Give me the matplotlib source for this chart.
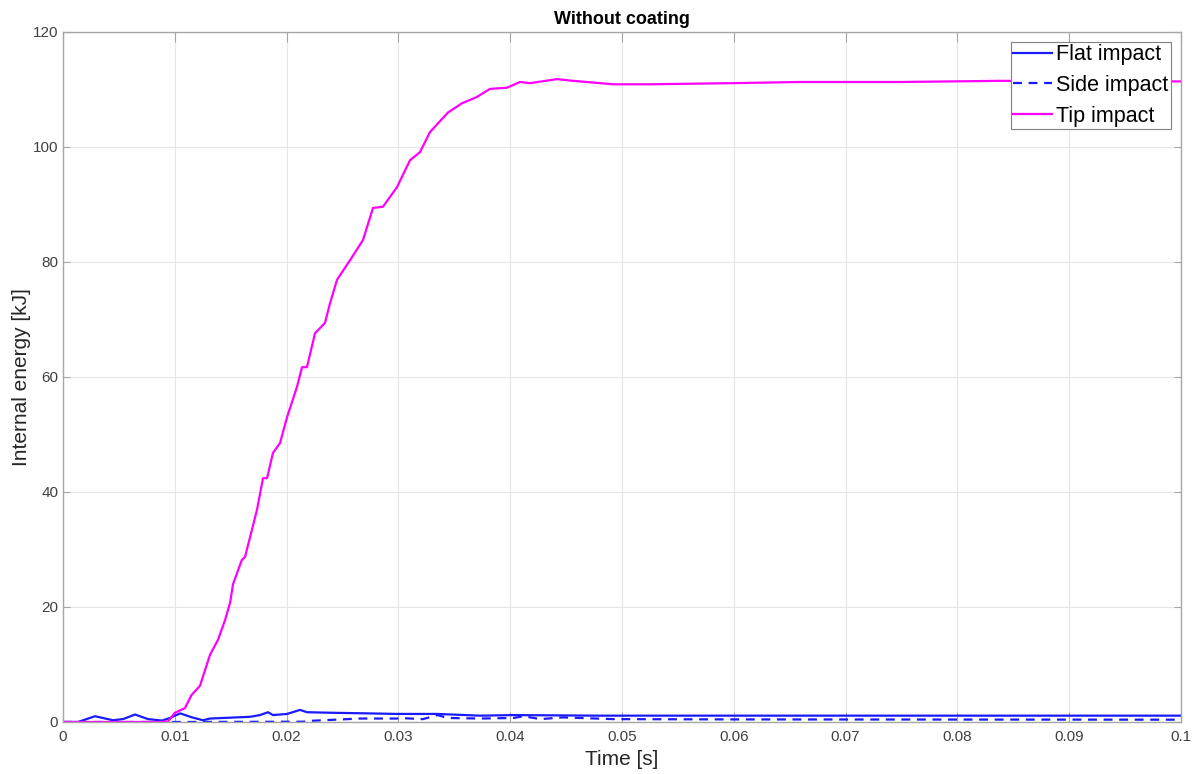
import matplotlib.pyplot as plt

# Tip impact (magenta)
t_tip = [0, 0.00868, 0.0094, 0.0100, 0.0109, 0.0115, 0.01225, 0.0125, 0.01315, 0.01386,
         0.01449, 0.01494, 0.01521, 0.0160, 0.01628, 0.01735, 0.01789, 0.01825, 0.01878,
         0.01941, 0.02004, 0.02093, 0.02138, 0.02182, 0.02254, 0.02343, 0.02388, 0.02451,
         0.02567, 0.02683, 0.02773, 0.02862, 0.02987, 0.03104, 0.03193, 0.03283, 0.03444,
         0.03569, 0.03703, 0.03819, 0.03971, 0.04088, 0.04177, 0.04419, 0.04562, 0.04803,
         0.0492, 0.0525, 0.0599, 0.0659, 0.0749, 0.0838, 0.1]
e_tip = [0, 0, 0.1, 1.6, 2.4, 4.7, 6.3, 7.8, 11.7, 14.3,
         17.7, 20.7, 24.0, 28.2, 28.7, 36.9, 42.4, 42.4, 46.8,
         48.5, 53.0, 58.3, 61.7, 61.7, 67.6, 69.4, 72.8, 76.9,
         80.3, 83.8, 89.4, 89.6, 93.0, 97.7, 99.1, 102.6, 106.0,
         107.6, 108.7, 110.1, 110.3, 111.3, 111.1, 111.8, 111.5, 111.1,
         110.9, 110.9, 111.1, 111.3, 111.3, 111.5, 111.4]

# Flat impact (blue solid)
t_flat = [0, 0.00134, 0.00286, 0.00447, 0.00537, 0.00644, 0.0076, 0.00886, 0.00957,
          0.01047, 0.01154, 0.01252, 0.01315, 0.01673, 0.01762, 0.01834, 0.01878,
          0.02004, 0.0212, 0.02182, 0.02415, 0.02719, 0.02987, 0.03345, 0.0373,
          0.04025, 0.048, 0.1]
e_flat = [0, 0, 1.0, 0.3, 0.5, 1.3, 0.5, 0.25, 0.7,
          1.5, 0.8, 0.3, 0.6, 0.9, 1.2, 1.7, 1.2,
          1.4, 2.1, 1.7, 1.6, 1.5, 1.4, 1.4, 1.1,
          1.2, 1.1, 1.1]

# Side impact (blue dashed)
t_side = [0, 0.0098, 0.0215, 0.0221, 0.0266, 0.0299, 0.0301, 0.0322, 0.0335, 0.0344,
          0.0373, 0.0403, 0.0412, 0.0427, 0.0447, 0.0492, 0.06, 0.1]
e_side = [0, 0, 0.05, 0.2, 0.6, 0.6, 0.7, 0.5, 1.2, 0.7,
          0.6, 0.7, 1.0, 0.5, 0.8, 0.5, 0.45, 0.4]

plt.rcParams['font.family'] = ['Liberation Sans', 'DejaVu Sans']

fig = plt.figure(figsize=(11.94, 7.74), dpi=100)
ax = fig.add_axes([0.0528, 0.0672, 0.9362, 0.8915])

ax.plot(t_flat, e_flat, color='#1a1aff', lw=1.6, label='Flat impact')
ax.plot(t_side, e_side, color='#1a1aff', lw=1.6, ls=(0, (4, 3)), label='Side impact')
ax.plot(t_tip, e_tip, color='#ff00ff', lw=1.6, label='Tip impact')

ax.set_xlim(0, 0.1)
ax.set_ylim(0, 120)
ax.set_xticks([0, 0.01, 0.02, 0.03, 0.04, 0.05, 0.06, 0.07, 0.08, 0.09, 0.1])
ax.set_xticklabels(['0', '0.01', '0.02', '0.03', '0.04', '0.05', '0.06', '0.07', '0.08', '0.09', '0.1'])
ax.set_yticks(range(0, 121, 20))

ax.grid(True, color='#e6e6e6', lw=0.8)
ax.set_axisbelow(True)
for s in ax.spines.values():
    s.set_color('#a6a6a6')
    s.set_linewidth(1.0)
ax.tick_params(axis='both', direction='in', top=True, right=True, length=5,
               color='#a6a6a6', labelcolor='#404040', labelsize=11)
ax.tick_params(axis='x', length=7, pad=6)

ax.set_xlabel('Time [s]', fontsize=15, color='#262626', labelpad=4)
ax.set_ylabel('Internal energy [kJ]', fontsize=15, color='#262626', labelpad=1)
ax.set_title('Without coating', fontsize=13, fontweight='bold', pad=6)

leg = ax.legend(loc='upper right', fontsize=15.5, fancybox=False, framealpha=1,
                edgecolor='#808080', borderaxespad=0.45, handlelength=1.8,
                handletextpad=0.2, borderpad=0.12, labelspacing=0.45)
leg.get_frame().set_linewidth(0.8)

fig.savefig('out.png', dpi=100)
